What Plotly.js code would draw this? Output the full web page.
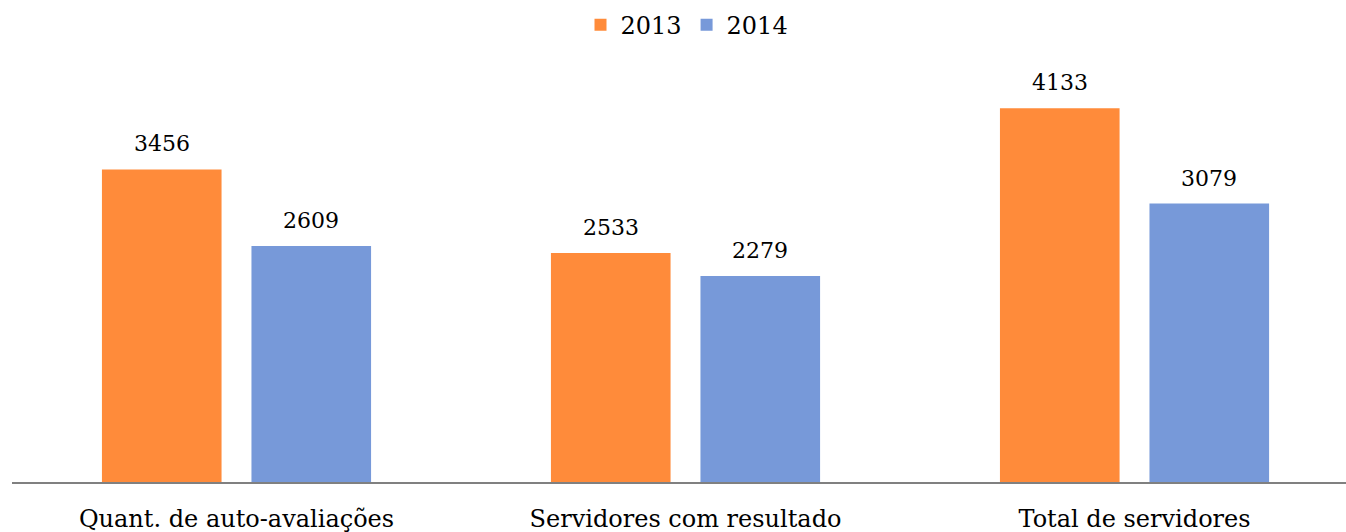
<!DOCTYPE html>
<html>
<head>
<meta charset="utf-8">
<script src="https://cdn.plot.ly/plotly-3.0.1.min.js"></script>
<style>html,body{margin:0;padding:0;background:#fff;}#chart{width:1346px;height:532px;}</style>
</head>
<body>
<div id="chart"></div>
<script>
var categories = ["Quant. de auto-avaliações", "Servidores com resultado", "Total de servidores"];
var seriesNames = ["2013", "2014"];
var values2013 = [3456, 2533, 4133];
var values2014 = [2609, 2279, 3079];

var colors = ["#FF8B3A", "#7799D9"];
var FONT = "DejaVu Serif";

var traces = [
  {type: "bar", name: seriesNames[0], x: categories, y: values2013, marker: {color: colors[0]}, hoverinfo: "x+y"},
  {type: "bar", name: seriesNames[1], x: categories, y: values2014, marker: {color: colors[1]}, hoverinfo: "x+y"}
];

var bargap = 0.334;
var slot = (1 - bargap) / 2;
var annotations = [];
[values2013, values2014].forEach(function (vals, s) {
  vals.forEach(function (v, i) {
    annotations.push({
      x: i + (s === 0 ? -slot / 2 : slot / 2),
      y: v,
      xref: "x", yref: "y",
      text: String(v),
      showarrow: false,
      yanchor: "bottom",
      yshift: 11,
      font: {family: FONT, size: 22, color: "#000"}
    });
  });
});

var layout = {
  width: 1346, height: 532,
  margin: {l: 12, r: 0, t: 75, b: 50},
  paper_bgcolor: "#fff", plot_bgcolor: "#fff",
  barmode: "group",
  bargap: bargap,
  bargroupgap: 0.2,
  font: {family: FONT, size: 22, color: "#000"},
  showlegend: true,
  legend: {
    orientation: "h", x: 0.506, xanchor: "center",
    yref: "container", y: 0.995, yanchor: "top",
    font: {family: FONT, size: 24, color: "#000"}
  },
  xaxis: {
    type: "category",
    range: [-0.5, 2.471],
    showline: true, linecolor: "#808080", linewidth: 2,
    showgrid: false, zeroline: false, ticks: "",
    ticklabelstandoff: 14,
    tickfont: {family: FONT, size: 24, color: "#000"},
    fixedrange: true
  },
  yaxis: {
    range: [0, 4500],
    visible: false, showgrid: false, zeroline: false,
    fixedrange: true
  },
  annotations: annotations
};

Plotly.newPlot("chart", traces, layout, {displayModeBar: false, staticPlot: true});
</script>
</body>
</html>
